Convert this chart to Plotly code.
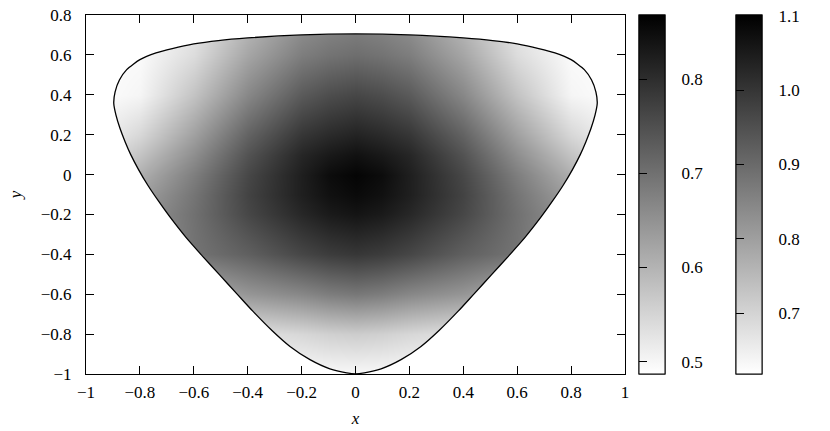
import plotly.graph_objects as go

# ---- data ----
x_grid = [-1.0, -0.8, -0.6, -0.4, -0.2, -0.1, 0.0, 0.1, 0.2, 0.4, 0.6, 0.8, 1.0]
y_grid = [-1.0, -0.8, -0.6, -0.4, -0.2, -0.1, 0.0, 0.1, 0.2, 0.4, 0.6, 0.8]
z_rows = [
    [0.487, 0.491, 0.494, 0.494, 0.494, 0.496, 0.497, 0.496, 0.494, 0.494, 0.494, 0.491, 0.487],
    [0.494, 0.502, 0.517, 0.532, 0.547, 0.557, 0.562, 0.557, 0.547, 0.532, 0.517, 0.502, 0.494],
    [0.524, 0.569, 0.607, 0.644, 0.666, 0.681, 0.689, 0.681, 0.666, 0.644, 0.607, 0.569, 0.524],
    [0.570, 0.640, 0.695, 0.725, 0.763, 0.778, 0.786, 0.778, 0.763, 0.725, 0.695, 0.640, 0.570],
    [0.584, 0.644, 0.700, 0.762, 0.810, 0.829, 0.838, 0.829, 0.810, 0.762, 0.700, 0.644, 0.584],
    [0.562, 0.629, 0.694, 0.768, 0.822, 0.843, 0.853, 0.843, 0.822, 0.768, 0.694, 0.629, 0.562],
    [0.539, 0.607, 0.680, 0.762, 0.823, 0.850, 0.861, 0.850, 0.823, 0.762, 0.680, 0.607, 0.539],
    [0.512, 0.577, 0.656, 0.745, 0.812, 0.831, 0.843, 0.831, 0.812, 0.745, 0.656, 0.577, 0.512],
    [0.494, 0.547, 0.629, 0.721, 0.788, 0.805, 0.816, 0.805, 0.788, 0.721, 0.629, 0.547, 0.494],
    [0.487, 0.502, 0.577, 0.666, 0.734, 0.753, 0.763, 0.753, 0.734, 0.666, 0.577, 0.502, 0.487],
    [0.487, 0.494, 0.539, 0.621, 0.681, 0.696, 0.704, 0.696, 0.681, 0.621, 0.539, 0.494, 0.487],
    [0.487, 0.487, 0.517, 0.584, 0.644, 0.659, 0.666, 0.659, 0.644, 0.584, 0.517, 0.487, 0.487],
]

# boundary of the domain, starting at the leftmost point, clockwise
boundary_x = [-0.897, -0.892, -0.876, -0.849, -0.800, -0.740, -0.680, -0.600, -0.509, -0.400,
              -0.200, 0.000, 0.200, 0.400, 0.509, 0.600, 0.680, 0.740, 0.800, 0.849,
              0.876, 0.892, 0.897, 0.889, 0.874, 0.855, 0.834, 0.805, 0.770, 0.730,
              0.690, 0.629, 0.567, 0.505, 0.440, 0.381, 0.310, 0.243, 0.169, 0.095,
              0.033, 0.000, -0.033, -0.095, -0.169, -0.243, -0.310, -0.381, -0.440, -0.505,
              -0.567, -0.629, -0.690, -0.730, -0.770, -0.805, -0.834, -0.855, -0.874, -0.889]
boundary_y = [0.357, 0.415, 0.474, 0.526, 0.576, 0.610, 0.632, 0.655, 0.672, 0.685,
              0.700, 0.705, 0.700, 0.685, 0.672, 0.655, 0.632, 0.610, 0.576, 0.526,
              0.474, 0.415, 0.357, 0.299, 0.232, 0.165, 0.100, 0.025, -0.055, -0.135,
              -0.210, -0.315, -0.410, -0.502, -0.598, -0.685, -0.782, -0.862, -0.928, -0.974,
              -0.994, -0.999, -0.994, -0.974, -0.928, -0.862, -0.782, -0.685, -0.598, -0.502,
              -0.410, -0.315, -0.210, -0.135, -0.055, 0.025, 0.100, 0.165, 0.232, 0.299]

cb1_range = [0.487, 0.868]
cb1_ticks = [0.5, 0.6, 0.7, 0.8]
cb2_range = [0.618, 1.101]
cb2_ticks = [0.7, 0.8, 0.9, 1.0, 1.1]

x_range = [-1, 1]
y_range = [-1, 0.8]
x_ticks = [-1, -0.8, -0.6, -0.4, -0.2, 0, 0.2, 0.4, 0.6, 0.8, 1]
y_ticks = [-1, -0.8, -0.6, -0.4, -0.2, 0, 0.2, 0.4, 0.6, 0.8]

FONT = "Liberation Serif"
FS = 17
gray = [[0, "white"], [1, "black"]]
clear = [[0, "rgba(0,0,0,0)"], [1, "rgba(0,0,0,0)"]]

# page layout (body margin removed, figure at the page origin)
W, H = 830, 431
ML, MT, MR, MB = 86, 15, 67, 431 - 15 - 359
PAPER_W = W - ML - MR
CB1_LEFT, CB2_LEFT = 639, 736     # pixels of the bars' left edges
CB_THICK = 26


def px(p):
    return (p - ML) / PAPER_W


def bar(left, ticks, kind):
    d = dict(xanchor="left", xpad=0, y=0.5, yanchor="middle", len=1, ypad=0,
             tickvals=ticks, tickformat=".1f", ticklabeloverflow="allow",
             tickfont=dict(family=FONT, size=FS, color="black"))
    if kind == "labels":
        d.update(x=px(left), thickness=CB_THICK, outlinewidth=1, outlinecolor="black",
                 ticks="outside", ticklen=13, tickcolor="rgba(0,0,0,0)", showticklabels=True)
    elif kind == "right":
        d.update(x=px(left), thickness=CB_THICK, outlinewidth=1, outlinecolor="black",
                 ticks="inside", ticklen=8, tickcolor="black", tickwidth=1,
                 showticklabels=False)
    else:  # ticks on the left edge: a hairline bar whose outside ticks point into the real bar
        d.update(x=px(left - 1), thickness=1, outlinewidth=0,
                 ticks="outside", ticklen=8, tickcolor="black", tickwidth=1,
                 showticklabels=False)
    return d


fig = go.Figure()

fig.add_trace(go.Heatmap(
    x=x_grid, y=y_grid, z=z_rows, zsmooth="best",
    colorscale=gray, zmin=cb1_range[0], zmax=cb1_range[1],
    colorbar=bar(CB1_LEFT, cb1_ticks, "right"),
    hoverinfo="skip",
))

# white mask outside the domain (keyhole polygon: outer rectangle ccw, inner boundary cw)
pad = 0.3
x0, x1 = x_range[0] - pad, x_range[1] + pad
y0, y1 = y_range[0] - pad, y_range[1] + pad
sx, sy = boundary_x[0], boundary_y[0]
mask_x = [x0, x0, x1, x1, x0, x0] + boundary_x + [sx, x0]
mask_y = [sy, y0, y0, y1, y1, sy] + boundary_y + [sy, sy]
fig.add_trace(go.Scatter(x=mask_x, y=mask_y, mode="lines", fill="toself",
                         fillcolor="white", line=dict(width=0, color="white"),
                         hoverinfo="skip", showlegend=False))

# boundary curve
fig.add_trace(go.Scatter(x=boundary_x + [boundary_x[0]], y=boundary_y + [boundary_y[0]],
                         mode="lines", line=dict(color="black", width=1.3, shape="spline",
                                                 smoothing=0.6),
                         hoverinfo="skip", showlegend=False))


def scale_only(rng, cb, cs=gray):
    return go.Scatter(x=[None, None], y=[None, None], mode="markers",
                      marker=dict(color=rng, colorscale=cs, cmin=rng[0], cmax=rng[1],
                                  showscale=True, colorbar=cb),
                      hoverinfo="skip", showlegend=False)


fig.add_trace(scale_only(cb1_range, bar(CB1_LEFT, cb1_ticks, "labels")))
fig.add_trace(scale_only(cb2_range, bar(CB2_LEFT, cb2_ticks, "right")))
fig.add_trace(scale_only(cb2_range, bar(CB2_LEFT, cb2_ticks, "labels")))
fig.add_trace(scale_only(cb1_range, bar(CB1_LEFT, cb1_ticks, "left"), clear))
fig.add_trace(scale_only(cb2_range, bar(CB2_LEFT, cb2_ticks, "left"), clear))

axis_common = dict(showgrid=False, zeroline=False, showline=True, linecolor="black",
                   linewidth=1, mirror="ticks", ticks="inside", ticklen=8, tickwidth=1,
                   tickcolor="black", ticklabeloverflow="allow",
                   tickfont=dict(family=FONT, size=FS, color="black"))

fig.update_layout(
    width=W, height=H,
    margin=dict(l=ML, r=MR, t=MT, b=MB, autoexpand=False),
    paper_bgcolor="white", plot_bgcolor="white",
    showlegend=False,
    xaxis=dict(range=x_range, domain=[0, (625 - ML) / PAPER_W],
               tickvals=x_ticks, ticklabelstandoff=3,
               title=dict(text="<i>x</i>", font=dict(family=FONT, size=FS, color="black"),
                          standoff=10),
               **axis_common),
    yaxis=dict(range=y_range, tickvals=y_ticks, ticklabelstandoff=10,
               title=dict(text="<i>y</i>", font=dict(family=FONT, size=FS, color="black"),
                          standoff=14),
               **axis_common),
)

fig.write_html("out.html", config={"displayModeBar": False},
               post_script="document.body.style.margin='0';document.body.style.overflow='hidden';")
